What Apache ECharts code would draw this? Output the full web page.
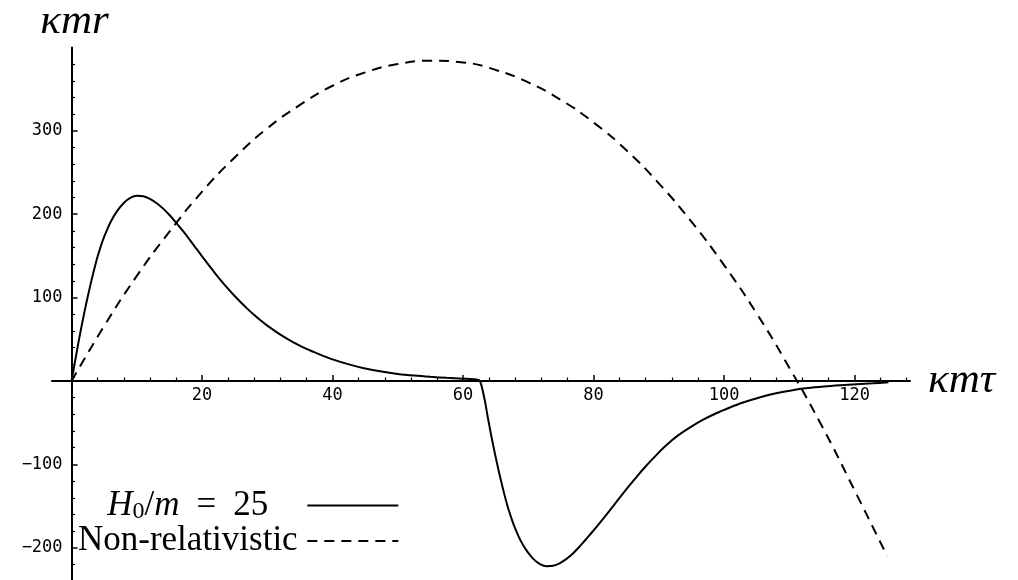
<!DOCTYPE html>
<html>
<head>
<meta charset="utf-8">
<title>κmr vs κmτ</title>
<script src="https://cdn.jsdelivr.net/npm/echarts@6/dist/echarts.min.js"></script>
<style>
  html, body { margin: 0; padding: 0; background: #ffffff; }
  #chart { width: 1018px; height: 580px; }
</style>
</head>
<body>
<div id="chart"></div>
<script>
// Relativistic trajectory, H0/m = 25
const tauRel = [0, 0.5, 1, 1.5, 2, 2.5, 3, 3.5, 4, 4.5, 5, 6, 7, 8, 9, 10, 11, 12, 13, 14,
  15, 16, 17, 18, 19, 20, 21, 22, 23, 24, 25, 26, 27, 28, 29, 30, 32, 34, 36, 38,
  40, 42.5, 45, 47.5, 50, 52.5, 55, 57.5, 60, 62, 62.6,
  63.3, 63.8, 64.3, 64.8, 65.3, 65.8, 66.3, 66.8, 67.3, 67.8, 68.8, 69.8, 70.8, 71.8, 72.8,
  73.8, 74.8, 75.8, 76.8, 77.8, 78.8, 79.8, 80.8, 81.8, 82.8, 83.8, 84.8, 85.8, 86.8, 87.8,
  88.8, 89.8, 90.8, 91.8, 92.8, 94.8, 96.8, 98.8, 100.8, 102.8, 105.3, 107.8, 110.3, 112.8,
  115.3, 117.8, 120.3, 122.8, 125.2];
const rRel = [0, 22, 44, 64.5, 84, 102, 119, 135, 149.5, 162, 173, 191, 204, 213.5, 219.5, 222, 221.5, 218.5, 213.5, 207,
  199, 190, 180.5, 170.5, 160, 149.5, 139.2, 129.2, 119.6, 110.5, 101.9, 93.8, 86.2, 79.1, 72.5, 66.4, 55.6, 46.4, 38.6, 32,
  26, 20, 15, 11.3, 8.5, 6.5, 5, 3.8, 2.8, 1.8, 0,
  -22, -44, -64.5, -84, -102, -119, -135, -149.5, -162, -173, -191, -204, -213.5, -219.5, -222,
  -221.5, -218.5, -213.5, -207, -199, -190, -181, -171.5, -162, -152, -142, -132, -122.5, -113, -104,
  -95.5, -87.3, -79.5, -72.5, -66, -55.6, -46.4, -38.6, -32, -26, -20, -15, -11.3, -8.5,
  -6.5, -5, -3.8, -2.8, -1.6];

// Non-relativistic trajectory
const tauClassic = [0, 5, 10, 15, 20, 25, 30, 35, 40, 45, 50, 55, 60, 65, 70, 75, 80, 85, 90, 95,
  100, 105, 110, 115, 120, 125];
const rClassic = [0, 66, 126, 179, 227, 268, 303, 331, 354, 370, 380, 384, 382, 373, 358, 337, 310, 277, 237, 191,
  139, 81, 16, -54, -131, -210];

const seriesNames = ['H₀/m = 25', 'Non-relativistic'];

// Tick labels
const xTickLabels = [20, 40, 60, 80, 100, 120];
const yTickLabels = [-200, -100, 100, 200, 300];

// Minor tick positions
const xMinorTicks = [];
for (let v = 4; v <= 128; v += 4) if (v % 20 !== 0) xMinorTicks.push(v);
const yMinorTicks = [];
for (let v = -240; v <= 380; v += 20) if (v % 100 !== 0) yMinorTicks.push(v);

const zip = (xs, ys) => xs.map((x, i) => [x, ys[i]]);

const X_MIN = -3, X_MAX = 128.5;
const Y_MIN = -240, Y_MAX = 400;
const GRID = { left: 52, top: 47.4, width: 858, height: 533.8 };

// The axes cross at the origin: shift them from the grid edges onto the zero lines.
const zeroX = GRID.left + (0 - X_MIN) / (X_MAX - X_MIN) * GRID.width;
const zeroY = GRID.top + (Y_MAX - 0) / (Y_MAX - Y_MIN) * GRID.height;
const yAxisOffset = -(zeroX - GRID.left);
const xAxisOffset = -(GRID.top + GRID.height - zeroY);

const INK = '#000000';
const tickFont = { fontFamily: 'DejaVu Sans Mono', fontSize: 17, color: INK };
const mathFont = { fontFamily: 'Liberation Serif', fontStyle: 'italic', fontSize: 43, color: INK };
const minus = v => String(v).replace('-', '\u2212');

const chart = echarts.init(document.getElementById('chart'), null, { renderer: 'canvas' });

chart.setOption({
  animation: false,
  backgroundColor: '#ffffff',
  grid: { ...GRID, containLabel: false, outerBoundsMode: 'none' },
  xAxis: [
    {
      type: 'value', min: X_MIN, max: X_MAX, position: 'bottom', offset: xAxisOffset,
      axisLine: { show: true, onZero: false, lineStyle: { color: INK, width: 2 } },
      axisTick: { show: true, inside: true, length: 6, customValues: xTickLabels, lineStyle: { color: INK, width: 1.5 } },
      axisLabel: { show: true, customValues: xTickLabels, margin: 6, ...tickFont, formatter: minus },
      splitLine: { show: false },
      name: 'κmτ', nameLocation: 'end', nameGap: 18,
      nameTextStyle: { ...mathFont, align: 'left', verticalAlign: 'middle', padding: [0, 0, -8, 0] }
    },
    {
      type: 'value', min: X_MIN, max: X_MAX, position: 'bottom', offset: xAxisOffset,
      axisLine: { show: false, onZero: false },
      axisTick: { show: true, inside: true, length: 3.5, customValues: xMinorTicks, lineStyle: { color: INK, width: 1.2 } },
      axisLabel: { show: false },
      splitLine: { show: false }
    }
  ],
  yAxis: [
    {
      type: 'value', min: Y_MIN, max: Y_MAX, position: 'left', offset: yAxisOffset,
      axisLine: { show: true, onZero: false, lineStyle: { color: INK, width: 2 } },
      axisTick: { show: true, inside: true, length: 6, customValues: yTickLabels, lineStyle: { color: INK, width: 1.5 } },
      axisLabel: { show: true, customValues: yTickLabels, margin: 9, ...tickFont, formatter: minus },
      splitLine: { show: false },
      name: 'κmr', nameLocation: 'end', nameGap: 4,
      nameTextStyle: { ...mathFont, align: 'center', verticalAlign: 'bottom', padding: [0, 0, 0, 6] }
    },
    {
      type: 'value', min: Y_MIN, max: Y_MAX, position: 'left', offset: yAxisOffset,
      axisLine: { show: false, onZero: false },
      axisTick: { show: true, inside: true, length: 3.5, customValues: yMinorTicks, lineStyle: { color: INK, width: 1.2 } },
      axisLabel: { show: false },
      splitLine: { show: false }
    }
  ],
  legend: {
    orient: 'vertical', align: 'right',
    left: 78, top: 488,
    padding: 0, itemGap: 0, itemWidth: 91, itemHeight: 14,
    data: seriesNames,
    itemStyle: { opacity: 0 },
    formatter: name => name === seriesNames[0]
      ? '{it|H}{sub|0}{n|/}{it|m}{eq|=}{n|25}'
      : '{n|Non-relativistic}',
    textStyle: {
      width: 229, color: INK,
      rich: {
        it: { fontFamily: 'Liberation Serif', fontStyle: 'italic', fontSize: 35, lineHeight: 36, align: 'center', color: INK },
        n: { fontFamily: 'Liberation Serif', fontSize: 35, lineHeight: 36, align: 'center', color: INK },
        eq: { fontFamily: 'Liberation Serif', fontSize: 35, lineHeight: 36, align: 'center', padding: [0, 17, 0, 17], color: INK },
        sub: { fontFamily: 'Liberation Serif', fontSize: 24, lineHeight: 14, verticalAlign: 'bottom', align: 'center', color: INK }
      }
    }
  },
  series: [
    {
      name: seriesNames[0], type: 'line', xAxisIndex: 0, yAxisIndex: 0,
      data: zip(tauRel, rRel),
      showSymbol: false, symbol: 'none', smooth: 0.3,
      lineStyle: { color: INK, width: 2, type: 'solid' },
      itemStyle: { color: INK }
    },
    {
      name: seriesNames[1], type: 'line', xAxisIndex: 0, yAxisIndex: 0,
      data: zip(tauClassic, rClassic),
      showSymbol: false, symbol: 'none', smooth: true,
      lineStyle: { color: INK, width: 2, type: [10, 7] },
      itemStyle: { color: INK }
    }
  ]
});
</script>
</body>
</html>
